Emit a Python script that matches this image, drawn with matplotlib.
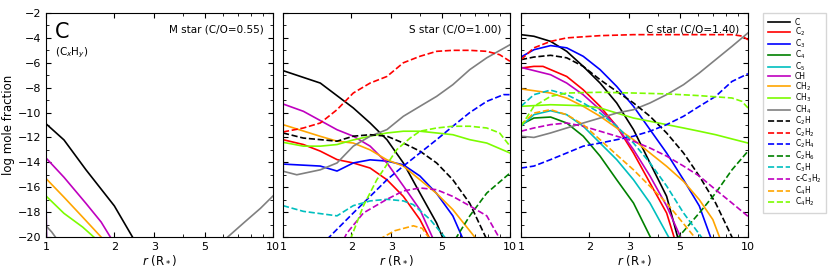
import matplotlib.pyplot as plt
from matplotlib.lines import Line2D
from matplotlib.ticker import FixedLocator, NullFormatter, MultipleLocator

SPECIES = ['C', 'C2', 'C3', 'C4', 'C5', 'CH', 'CH2', 'CH3', 'CH4',
           'C2H', 'C2H2', 'C2H4', 'C2H6', 'C3H', 'c-C3H2', 'C4H', 'C4H2']
LABELS = ['C', 'C$_2$', 'C$_3$', 'C$_4$', 'C$_5$', 'CH', 'CH$_2$', 'CH$_3$', 'CH$_4$',
          'C$_2$H', 'C$_2$H$_2$', 'C$_2$H$_4$', 'C$_2$H$_6$', 'C$_3$H', 'c-C$_3$H$_2$',
          'C$_4$H', 'C$_4$H$_2$']
COLORS = ['black', 'red', 'blue', 'green', 'c', 'm', 'orange', 'lawngreen', 'gray',
          'black', 'red', 'blue', 'green', 'c', 'm', 'orange', 'lawngreen']
DASHED = [False] * 9 + [True] * 8

TITLES = ['M star (C/O=0.55)', 'S star (C/O=1.00)', 'C star (C/O=1.40)']

nan = float('nan')

# M star: (r, log x)
m_star = {
    'C': ([1.0, 1.2, 1.5, 2.0, 2.44], [-10.9, -12.2, -14.6, -17.5, -20.2]),
    'C2': ([1.0, 1.004], [-16.5, -20.2]),
    'C3': ([1.0, 1.004], [-15.5, -20.2]),
    'CH': ([1.0, 1.2, 1.5, 1.75, 1.95], [-13.65, -15.2, -17.3, -18.8, -20.2]),
    'CH2': ([1.0, 1.2, 1.45, 1.79], [-15.3, -16.8, -18.4, -20.2]),
    'CH3': ([1.0, 1.2, 1.45, 1.67], [-16.7, -18.1, -19.2, -20.2]),
    'CH4': ([1.0, 1.06, 1.12, 2.0, 6.14, 7.5, 8.8, 10.0],
            [-19.1, -19.6, -20.2, nan, -20.2, -18.8, -17.7, -16.7]),
}

s_star = {
    'C': ([1.0, 1.46, 2.04, 2.42, 2.87, 3.39, 4.01, 4.75, 5.09],
          [-6.63, -7.63, -9.63, -10.84, -12.18, -14.05, -16.47, -18.88, -20.2]),
    'C2': ([1.0, 1.23, 1.46, 1.73, 2.04, 2.42, 2.87, 3.39, 4.01, 4.45],
           [-12.18, -12.57, -13.1, -13.78, -14.05, -14.46, -15.4, -16.74, -18.6, -20.2]),
    'C3': ([1.0, 1.46, 1.73, 2.04, 2.42, 2.87, 3.39, 4.01, 4.75, 5.6, 6.22],
           [-14.14, -14.3, -14.7, -14.05, -13.8, -13.9, -14.2, -15.1, -16.5, -18.3, -20.2]),
    'CH': ([1.0, 1.23, 1.73, 2.04, 2.42, 2.87, 3.39, 4.01, 4.6],
           [-9.31, -9.9, -11.38, -11.9, -12.7, -14.05, -15.9, -17.8, -20.2]),
    'CH2': ([1.0, 1.46, 1.73, 2.04, 2.42, 2.87, 3.39, 4.01, 4.75, 5.6, 7.13],
            [-10.97, -11.91, -12.3, -12.45, -13.0, -13.8, -14.3, -15.4, -16.5, -17.8, -20.2]),
    'CH3': ([1.0, 1.23, 1.46, 1.73, 2.04, 2.42, 2.87, 3.39, 4.01, 4.75, 5.6, 6.65, 7.9, 10.0],
            [-12.39, -12.7, -12.7, -12.57, -12.2, -11.9, -11.64, -11.5, -11.5, -11.64, -11.78,
             -12.18, -12.45, -13.25]),
    'CH4': ([1.0, 1.003, 1.15, 1.46, 1.73, 2.04, 2.42, 2.87, 3.39, 4.01, 4.75, 5.6, 6.65, 7.9, 10.0],
            [-2.0, -14.72, -15.0, -14.6, -14.05, -12.7, -11.9, -11.37, -10.3, -9.5, -8.7, -7.76,
             -6.55, -5.6, -4.55]),
    'C2H': ([1.0, 1.23, 1.73, 2.04, 2.42, 2.87, 3.39, 4.01, 4.75, 5.6, 6.65, 7.9],
            [-11.64, -12.05, -12.3, -11.9, -11.78, -11.9, -12.45, -13.1, -14.05, -15.4, -17.3, -20.2]),
    'C2H2': ([1.0, 1.23, 1.46, 1.73, 2.04, 2.42, 2.87, 3.39, 4.01, 4.75, 5.6, 6.65, 7.9, 9.0, 10.0],
             [-11.56, -11.24, -10.84, -9.77, -8.43, -7.63, -7.1, -6.0, -5.48, -5.08, -5.0, -5.0,
              -5.08, -5.35, -5.88]),
    'C2H4': ([1.56, 2.04, 2.42, 2.87, 3.39, 4.01, 4.75, 5.6, 6.65, 7.9, 9.37, 10.0],
             [-20.2, -18.07, -16.74, -15.4, -14.3, -13.25, -12.18, -11.1, -10.0, -9.1, -8.56, -8.56]),
    'C2H6': ([5.73, 6.65, 7.9, 10.0], [-20.2, -18.3, -16.47, -14.86]),
    'C3H': ([1.0, 1.23, 1.73, 2.04, 2.42, 2.87, 3.39, 3.75, 4.45, 5.26],
            [-17.48, -17.94, -18.3, -17.48, -17.1, -16.97, -17.1, -17.4, -18.6, -20.2]),
    'c-C3H2': ([1.85, 1.91, 2.26, 2.87, 3.39, 4.01, 4.75, 5.6, 6.65, 7.9, 9.05],
               [-20.2, -19.7, -18.07, -16.97, -16.3, -16.06, -16.2, -16.74, -17.5, -18.3, -20.2]),
    'C4H': ([2.65, 3.1, 3.75, 4.1, 4.45], [-20.2, -19.5, -19.1, -19.3, -20.2]),
    'C4H2': ([1.98, 2.26, 2.59, 3.17, 3.63, 4.01, 4.75, 5.6, 6.65, 7.9, 9.0, 10.0],
             [-20.2, -17.5, -15.4, -12.98, -12.05, -11.5, -11.24, -11.1, -11.1, -11.24, -11.64, -12.7]),
}

c_star = {
    'C': ([1.0, 1.14, 1.35, 1.59, 1.88, 2.23, 2.64, 3.13, 3.70, 4.38, 4.93],
          [-3.74, -3.87, -4.28, -5.08, -6.29, -7.63, -9.23, -11.37, -14.05, -16.73, -20.2]),
    'C2': ([1.0, 1.14, 1.25, 1.59, 1.88, 2.23, 2.64, 3.13, 3.70, 4.38, 4.76],
           [-6.42, -6.29, -6.29, -7.1, -8.17, -9.5, -11.1, -13.25, -15.66, -18.07, -20.2]),
    'C3': ([1.0, 1.14, 1.35, 1.59, 1.88, 2.23, 2.64, 3.13, 3.70, 4.38, 5.2, 6.1, 6.9],
           [-5.54, -4.95, -4.62, -4.8, -5.48, -6.55, -7.9, -9.5, -11.37, -13.25, -15.4, -17.5, -20.2]),
    'C4': ([1.0, 1.14, 1.35, 1.59, 1.88, 2.23, 2.64, 3.13, 3.76],
           [-10.97, -10.44, -10.36, -10.84, -11.9, -13.5, -15.4, -17.27, -20.2]),
    'C5': ([1.0, 1.14, 1.35, 1.59, 1.88, 2.23, 2.64, 3.13, 3.70, 4.53],
           [-11.1, -10.17, -9.85, -10.17, -11.1, -12.45, -13.78, -15.4, -17.27, -20.2]),
    'CH': ([1.0, 1.35, 1.59, 1.88, 2.23, 2.64, 3.13, 3.70, 4.38, 5.1],
           [-6.37, -6.96, -7.63, -8.57, -9.77, -11.1, -12.98, -15.1, -17.5, -20.2]),
    'CH2': ([1.0, 1.35, 1.59, 1.88, 2.23, 2.64, 3.13, 3.70, 4.38, 5.2, 6.1, 7.0, 7.56],
            [-8.1, -8.43, -8.84, -9.5, -10.3, -11.24, -12.18, -13.25, -14.32, -15.53, -17.0,
             -18.6, -20.2]),
    'CH3': ([1.0, 1.35, 1.88, 2.23, 2.64, 3.13, 3.70, 4.38, 5.2, 6.1, 7.2, 8.5, 10.0],
            [-9.5, -9.37, -9.45, -9.63, -10.04, -10.44, -10.7, -10.97, -11.24, -11.5, -11.78,
             -12.12, -12.45]),
    'CH4': ([1.0, 1.14, 1.35, 1.59, 1.88, 2.23, 2.64, 3.13, 3.70, 4.38, 5.2, 6.1, 7.2, 8.5, 10.0],
            [-11.9, -12.0, -11.64, -11.24, -10.84, -10.44, -10.04, -9.77, -9.23, -8.56, -7.76,
             -6.82, -5.75, -4.68, -3.6]),
    'C2H': ([1.0, 1.14, 1.35, 1.59, 1.88, 2.23, 2.64, 3.13, 3.70, 4.38, 5.2, 6.1, 7.2, 8.6],
            [-5.75, -5.54, -5.4, -5.6, -6.29, -7.36, -8.3, -9.23, -10.3, -11.64, -13.25, -15.1,
             -17.27, -20.2]),
    'C2H2': ([1.0, 1.14, 1.35, 1.59, 2.23, 3.13, 4.38, 6.1, 8.5, 9.4, 10.0],
             [-5.75, -4.8, -4.28, -4.0, -3.82, -3.74, -3.74, -3.74, -3.74, -3.85, -4.15]),
    'C2H4': ([1.0, 1.14, 1.35, 1.59, 1.88, 2.23, 2.64, 3.13, 3.70, 4.38, 5.2, 6.1, 7.2, 8.5, 10.0],
             [-14.46, -14.3, -13.78, -13.25, -12.7, -12.45, -12.18, -11.9, -11.5, -10.97, -10.3,
              -9.5, -8.7, -7.5, -6.88]),
    'C2H6': ([4.84, 6.1, 7.2, 8.5, 10.0], [-20.2, -18.07, -16.47, -14.6, -13.1]),
    'C3H': ([1.0, 1.14, 1.35, 1.59, 1.88, 2.23, 2.64, 3.13, 3.70, 4.38, 5.2, 6.35],
            [-9.5, -8.56, -8.2, -8.56, -9.23, -10.04, -11.1, -12.45, -14.05, -15.9, -18.07, -20.2]),
    'c-C3H2': ([1.0, 1.14, 1.35, 1.59, 1.88, 2.23, 2.64, 3.13, 3.70, 4.38, 5.2, 6.1, 7.2, 8.5, 10.0],
               [-11.5, -11.24, -10.97, -10.84, -11.1, -11.5, -11.9, -12.3, -12.85, -13.5, -14.3,
                -15.1, -16.2, -17.27, -18.34]),
    'C4H': ([1.0, 1.14, 1.35, 1.59, 1.88, 2.23, 2.64, 3.13, 3.70, 4.38, 5.93],
            [-10.97, -10.04, -9.77, -10.17, -10.97, -12.18, -13.4, -14.6, -15.93, -17.27, -20.2]),
    'C4H2': ([1.0, 1.14, 1.35, 1.59, 2.23, 3.13, 4.38, 6.1, 8.5, 9.4, 10.0],
             [-11.1, -9.5, -8.7, -8.43, -8.37, -8.43, -8.5, -8.64, -8.83, -9.1, -9.63]),
}

PANELS = [m_star, s_star, c_star]

fig = plt.figure(figsize=(8.3, 2.7), dpi=100)
lefts = [46 / 830, 283 / 830, 521 / 830]
axes = [fig.add_axes([l, 33 / 270, 227 / 830, 224 / 270]) for l in lefts]

for i, (ax, data, title) in enumerate(zip(axes, PANELS, TITLES)):
    for sp, col, dash in zip(SPECIES, COLORS, DASHED):
        if sp in data:
            r, y = data[sp]
            ax.plot(r, y, color=col, lw=1.2, ls='--' if dash else '-')
    ax.set_xscale('log')
    ax.set_xlim(1, 10)
    ax.set_ylim(-20, -2)
    ax.xaxis.set_major_locator(FixedLocator([1, 2, 3, 5, 10]))
    ax.xaxis.set_major_formatter(plt.FuncFormatter(lambda v, p: '%g' % v))
    ax.xaxis.set_minor_locator(FixedLocator([4, 6, 7, 8, 9]))
    ax.xaxis.set_minor_formatter(NullFormatter())
    ax.yaxis.set_major_locator(MultipleLocator(2))
    ax.yaxis.set_minor_locator(MultipleLocator(1))
    ax.tick_params(which='both', direction='in', top=True, right=True, labelsize=8)
    ax.tick_params(which='major', length=3.5)
    ax.tick_params(which='minor', length=2)
    ax.set_xlabel(r'$r$ (R$_*$)', fontsize=8.5, labelpad=1)
    ax.text(0.96, 0.95, title, transform=ax.transAxes, ha='right', va='top', fontsize=7.5)
    if i == 0:
        ax.set_ylabel('log mole fraction', fontsize=8.5, labelpad=2)
        ax.text(0.04, 0.96, 'C', transform=ax.transAxes, ha='left', va='top', fontsize=15)
        ax.text(0.04, 0.855, r'(C$_x$H$_y$)', transform=ax.transAxes, ha='left', va='top', fontsize=7.5)
    else:
        ax.set_yticklabels([])

handles = [Line2D([], [], color=c, lw=1.2, ls='--' if d else '-') for c, d in zip(COLORS, DASHED)]
fig.legend(handles, LABELS, loc='upper left', bbox_to_anchor=(763 / 830, 1 - 13 / 270),
           fontsize=5.5, handlelength=2.9, handletextpad=0.7, labelspacing=-0.12,
           borderpad=0.6, borderaxespad=0, frameon=True, fancybox=False, edgecolor='#cccccc')

plt.savefig('out.png', dpi=100)
